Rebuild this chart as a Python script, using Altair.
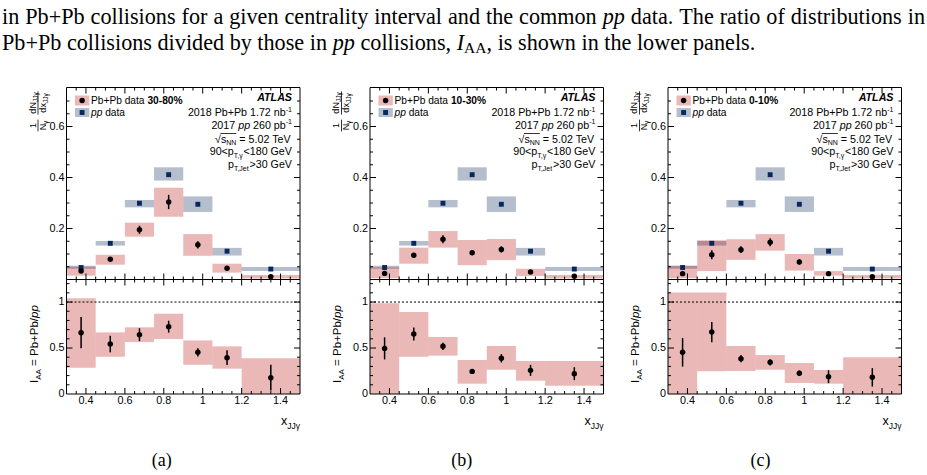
import altair as alt
import pandas as pd

W, H = 927, 475
SANS, SERIF = "Liberation Sans", "Liberation Serif"
NAVY, RED = "#06285b", "#be1414"

# ---------------- data ----------------
XMIN, XMAX = 0.3, 1.5
x_lo = [0.30, 0.45, 0.60, 0.75, 0.90, 1.05, 1.20]
x_hi = [0.45, 0.60, 0.75, 0.90, 1.05, 1.20, 1.50]
x_pt = [0.375, 0.525, 0.675, 0.825, 0.975, 1.125, 1.35]

# common pp data
pp_val = [0.047, 0.142, 0.299, 0.411, 0.295, 0.111, 0.041]
pp_sys_lo = [0.042, 0.133, 0.283, 0.388, 0.265, 0.094, 0.033]
pp_sys_hi = [0.054, 0.151, 0.312, 0.440, 0.326, 0.124, 0.049]

# Pb+Pb 30-80 %
a_val = [0.033, 0.079, 0.195, 0.304, 0.136, 0.044, 0.011]
a_stat = [0.004, 0.006, 0.016, 0.028, 0.014, 0.005, 0.003]
a_sys_lo = [0.015, 0.058, 0.168, 0.246, 0.093, 0.027, 0.004]
a_sys_hi = [0.050, 0.097, 0.223, 0.360, 0.178, 0.062, 0.018]
a_iaa = [0.667, 0.543, 0.645, 0.732, 0.453, 0.395, 0.177]
a_iaa_stat = [0.17, 0.09, 0.07, 0.065, 0.045, 0.08, 0.14]
a_iaa_lo = [0.286, 0.405, 0.565, 0.598, 0.318, 0.275, 0.0]
a_iaa_hi = [1.04, 0.67, 0.725, 0.873, 0.583, 0.518, 0.388]

# Pb+Pb 10-30 %
b_val = [0.024, 0.095, 0.158, 0.105, 0.118, 0.029, 0.013]
b_stat = [0.004, 0.007, 0.016, 0.010, 0.012, 0.004, 0.003]
b_sys_lo = [0.005, 0.062, 0.125, 0.056, 0.076, 0.014, 0.004]
b_sys_hi = [0.048, 0.125, 0.190, 0.155, 0.159, 0.042, 0.018]
b_iaa = [0.496, 0.652, 0.518, 0.246, 0.388, 0.257, 0.221]
b_iaa_stat = [0.12, 0.07, 0.04, 0.02, 0.045, 0.06, 0.07]
b_iaa_lo = [0.0, 0.406, 0.417, 0.112, 0.264, 0.145, 0.09]
b_iaa_hi = [0.986, 0.891, 0.62, 0.37, 0.522, 0.359, 0.359]

# Pb+Pb 0-10 %
c_val = [0.023, 0.097, 0.117, 0.146, 0.069, 0.023, 0.011]
c_stat = [0.004, 0.018, 0.013, 0.016, 0.010, 0.004, 0.003]
c_sys_lo = [0.005, 0.033, 0.077, 0.113, 0.035, 0.015, 0.004]
c_sys_hi = [0.054, 0.154, 0.158, 0.178, 0.100, 0.033, 0.018]
c_iaa = [0.453, 0.674, 0.384, 0.344, 0.225, 0.188, 0.181]
c_iaa_stat = [0.155, 0.11, 0.04, 0.035, 0.03, 0.07, 0.1]
c_iaa_lo = [0.0, 0.248, 0.25, 0.264, 0.12, 0.112, 0.0]
c_iaa_hi = [1.105, 1.105, 0.522, 0.424, 0.337, 0.261, 0.399]

centrality = ["30-80%", "10-30%", "0-10%"]
captions = ["(a)", "(b)", "(c)"]

x_major = [0.4, 0.6, 0.8, 1.0, 1.2, 1.4]
x_minor = [0.35, 0.45, 0.5, 0.55, 0.65, 0.7, 0.75, 0.85, 0.9, 0.95,
           1.05, 1.1, 1.15, 1.25, 1.3, 1.35, 1.45]
x_labels = ["0.4", "0.6", "0.8", "1", "1.2", "1.4"]
yu_major = [0.2, 0.4, 0.6]
yu_minor = [0.05, 0.1, 0.15, 0.25, 0.3, 0.35, 0.45, 0.5, 0.55, 0.65, 0.7]
yu_labels = ["0.2", "0.4", "0.6"]
yl_major = [0.5, 1.0]
yl_minor = [0.1, 0.2, 0.3, 0.4, 0.6, 0.7, 0.8, 0.9, 1.1, 1.2]
yl_label_vals = [0.0, 0.5, 1.0]
yl_labels = ["0", "0.5", "1"]

header1 = ["in", "Pb+Pb", "collisions", "for", "a", "given", "centrality", "interval",
           "and", "the", "common", "*pp", "data.", "The", "ratio", "of", "distributions", "in"]

PANELS = [
    dict(val=a_val, stat=a_stat, lo=a_sys_lo, hi=a_sys_hi,
         iaa=a_iaa, istat=a_iaa_stat, ilo=a_iaa_lo, ihi=a_iaa_hi),
    dict(val=b_val, stat=b_stat, lo=b_sys_lo, hi=b_sys_hi,
         iaa=b_iaa, istat=b_iaa_stat, ilo=b_iaa_lo, ihi=b_iaa_hi),
    dict(val=c_val, stat=c_stat, lo=c_sys_lo, hi=c_sys_hi,
         iaa=c_iaa, istat=c_iaa_stat, ilo=c_iaa_lo, ihi=c_iaa_hi),
]

# ---------------- layout ----------------
PX0 = [66.5, 370.0, 668.0]
PW = 233.5
YU_T, YU_B, YU_MAX = 87.5, 279.5, 0.753
YL_T, YL_B, YL_MAX = 279.5, 394.0, 1.245
CAP_X = [161.7, 461.7, 760.5]

# font metrics (per 1000 em) for composing rich text
AR = {' ': 278, '%': 889, '+': 584, ',': 278, '-': 333, '.': 278, '/': 278, '<': 584,
      '=': 584, '>': 584, '(': 333, ')': 333, 'A': 667, 'B': 667, 'C': 722, 'D': 722,
      'E': 667, 'G': 778, 'I': 278, 'J': 500, 'L': 556, 'N': 722, 'P': 667, 'S': 667,
      'T': 611, 'V': 667, 'a': 556, 'b': 556, 'c': 500, 'd': 556, 'e': 556, 'f': 278,
      'g': 556, 'h': 556, 'i': 222, 'l': 222, 'm': 833, 'n': 556, 'o': 556, 'p': 556,
      'r': 333, 's': 500, 't': 278, 'u': 556, 'v': 500, 'x': 500, 'y': 500,
      'γ': 500, '√': 549}
AR_B = dict(AR, **{'A': 722, 'L': 611, 'S': 667, 'T': 611})
TM = {' ': 250, '+': 564, ',': 250, '.': 250, '-': 333, '(': 333, ')': 333, 'A': 722,
      'I': 333, 'P': 556, 'T': 611, 'a': 444, 'b': 500, 'c': 444, 'd': 500, 'e': 444,
      'f': 333, 'g': 500, 'h': 500, 'i': 278, 'l': 278, 'm': 778, 'n': 500, 'o': 500,
      'p': 500, 'r': 333, 's': 389, 't': 278, 'u': 500, 'v': 500, 'w': 722, 'y': 500}


def tw(s, size, table, default=556):
    return sum(table.get(ch, default) for ch in s) * size / 1000.0


ann = []      # text pieces
swatch = []   # small legend rects
lines = []    # small decoration rules


def put(x, y, text, size, font=SANS, weight="normal", style="normal", angle=0, align="left"):
    ann.append(dict(x=x, y=y, text=text, size=size, font=font, weight=weight,
                    style=style, angle=angle, align=align))


def tab_of(s):
    return AR_B if s.get("weight") == "bold" else AR


def seg_width(segs):
    return sum(tw(s["t"], s["size"], tab_of(s)) for s in segs)


def compose(x_start, y_base, segs):
    # leading/trailing blanks are collapsed by SVG, so advance x by hand
    x = x_start
    for s in segs:
        t = s["t"]
        lead = len(t) - len(t.lstrip(" "))
        xs = x + tw(" " * lead, s["size"], tab_of(s))
        if t.strip():
            put(xs, y_base + s.get("dy", 0), t.strip(), s["size"],
                weight=s.get("weight", "normal"), style=s.get("style", "normal"))
        x += tw(t, s["size"], tab_of(s))
    return x


def compose_right(x_right, y_base, segs):
    return compose(x_right - seg_width(segs), y_base, segs)


def compose_up(x_base, y_start, segs):
    # rotated text reading bottom -> top
    y = y_start
    for s in segs:
        t = s["t"]
        lead = len(t) - len(t.lstrip(" "))
        ys = y - tw(" " * lead, s["size"], AR)
        if t.strip():
            put(x_base + s.get("dx", 0), ys, t.strip(), s["size"],
                style=s.get("style", "normal"), angle=270)
        y -= tw(t, s["size"], AR)
    return y


# ---------------- panels ----------------
def panel(i, upper):
    x0, x1 = PX0[i], PX0[i] + PW
    if upper:
        ytop, ybot, ymax = YU_T, YU_B, YU_MAX
    else:
        ytop, ybot, ymax = YL_T, YL_B, YL_MAX
    ppx = PW / (XMAX - XMIN)
    ppy = (ybot - ytop) / ymax
    xs = alt.Scale(domain=[XMIN, XMAX], range=[x0, x1], nice=False, zero=False)
    ys = alt.Scale(domain=[0, ymax], range=[ybot, ytop], nice=False, zero=False)

    def X(f):
        return alt.X(f, type="quantitative", scale=xs, axis=None)

    def Y(f):
        return alt.Y(f, type="quantitative", scale=ys, axis=None)

    d = PANELS[i]
    L = []
    if upper:
        ppbox = pd.DataFrame(dict(xl=x_lo, xh=x_hi, lo=pp_sys_lo, hi=pp_sys_hi))
        L.append(alt.Chart(ppbox).mark_rect(color=NAVY, opacity=0.3)
                 .encode(x=X("xl"), x2="xh", y=Y("lo"), y2="hi"))
        val, st, lo, hi = d["val"], d["stat"], d["lo"], d["hi"]
    else:
        val, st, lo, hi = d["iaa"], d["istat"], d["ilo"], d["ihi"]
    box = pd.DataFrame(dict(xl=x_lo, xh=x_hi, lo=lo, hi=hi))
    L.append(alt.Chart(box).mark_rect(color=RED, opacity=0.3)
             .encode(x=X("xl"), x2="xh", y=Y("lo"), y2="hi"))
    if not upper:
        one = pd.DataFrame(dict(xa=[XMIN], xb=[XMAX], ya=[1.0]))
        L.append(alt.Chart(one).mark_rule(color="black", strokeWidth=1, strokeDash=[2, 2])
                 .encode(x=X("xa"), x2="xb", y=Y("ya")))
    err = pd.DataFrame(dict(x=x_pt, lo=[v - s for v, s in zip(val, st)],
                            hi=[v + s for v, s in zip(val, st)]))
    L.append(alt.Chart(err).mark_rule(color="black", strokeWidth=1.5)
             .encode(x=X("x"), y=Y("lo"), y2="hi"))
    if upper:
        pts = pd.DataFrame(dict(x=x_pt, v=pp_val))
        L.append(alt.Chart(pts).mark_square(color=NAVY, size=24, opacity=1)
                 .encode(x=X("x"), y=Y("v")))
    pb = pd.DataFrame(dict(x=x_pt, v=val))
    L.append(alt.Chart(pb).mark_circle(color="black", size=30, opacity=1)
             .encode(x=X("x"), y=Y("v")))

    # frame
    fr = pd.DataFrame(dict(xa=[XMIN], xb=[XMAX], ya=[0.0], yb=[ymax]))
    L.append(alt.Chart(fr).mark_rect(fillOpacity=0, stroke="black", strokeWidth=1)
             .encode(x=X("xa"), x2="xb", y=Y("ya"), y2="yb"))

    # inward ticks on all four sides
    rows = []
    xt = [(t, 6) for t in x_major] + [(t, 3) for t in x_minor]
    if upper:
        yt = [(t, 6) for t in yu_major] + [(t, 3) for t in yu_minor]
    else:
        yt = [(t, 6) for t in yl_major] + [(t, 3) for t in yl_minor]
    for t, ln in xt:
        dl = ln / ppy
        rows.append(dict(xa=t, xb=t, ya=0.0, yb=dl))
        rows.append(dict(xa=t, xb=t, ya=ymax, yb=ymax - dl))
    for t, ln in yt:
        dl = ln / ppx
        rows.append(dict(xa=XMIN, xb=XMIN + dl, ya=t, yb=t))
        rows.append(dict(xa=XMAX, xb=XMAX - dl, ya=t, yb=t))
    L.append(alt.Chart(pd.DataFrame(rows)).mark_rule(color="black", strokeWidth=1)
             .encode(x=X("xa"), x2="xb", y=Y("ya"), y2="yb"))

    # tick labels
    if upper:
        yl = pd.DataFrame(dict(x=[XMIN] * len(yu_major), t=yu_major, lab=yu_labels))
    else:
        yl = pd.DataFrame(dict(x=[XMIN] * len(yl_label_vals), t=yl_label_vals, lab=yl_labels))
        xl = pd.DataFrame(dict(t=x_major, y=[0.0] * len(x_major), lab=x_labels))
        L.append(alt.Chart(xl).mark_text(font=SANS, fontSize=10.8, align="center",
                                         baseline="middle", dy=7, color="black")
                 .encode(x=X("t"), y=Y("y"), text="lab:N"))
    L.append(alt.Chart(yl).mark_text(font=SANS, fontSize=10.8, align="right",
                                     baseline="middle", dx=-2, color="black")
             .encode(x=X("x"), y=Y("t"), text="lab:N"))
    return alt.layer(*L)


# ---------------- annotations ----------------
for i in range(3):
    x0, x1 = PX0[i], PX0[i] + PW
    # legend
    swatch.append(dict(x=x0 + 8.5, x2=x0 + 22.8, y=95.5, y2=105.5, c=RED))
    swatch.append(dict(x=x0 + 8.5, x2=x0 + 22.8, y=108.0, y2=117.0, c=NAVY))
    compose(x0 + 24.5, 104.3, [dict(t="Pb+Pb data ", size=10.2),
                               dict(t=centrality[i], size=10.2, weight="bold")])
    compose(x0 + 24.5, 116.3, [dict(t="pp", size=10.2, style="italic"),
                               dict(t=" data", size=10.2)])
    # ATLAS block
    xr = x1 - 8
    put(xr, 100.8, "ATLAS", 10.7, weight="bold", style="italic", align="right")
    compose_right(xr, 116.1, [dict(t="2018 Pb+Pb 1.72 nb", size=10.7),
                              dict(t="-1", size=7, dy=-4.5)])
    compose_right(xr, 128.8, [dict(t="2017 ", size=10.7), dict(t="pp", size=10.7, style="italic"),
                              dict(t=" 260 pb", size=10.7), dict(t="-1", size=7, dy=-4.5)])
    segs = [dict(t="√", size=10.7), dict(t="s", size=10.7), dict(t="NN", size=7, dy=2.5),
            dict(t=" = 5.02 TeV", size=10.7)]
    xs0 = xr - seg_width(segs)
    compose(xs0, 142.8, segs)
    ov0 = xs0 + tw("√", 10.7, AR) - 0.5
    ov1 = ov0 + 0.5 + tw("s", 10.7, AR) + tw("NN", 7, AR)
    lines.append(dict(x=ov0, x2=ov1, y=142.8 - 9.3, y2=142.8 - 9.3))
    compose_right(xr, 154.8, [dict(t="90<p", size=10.7), dict(t="T,γ", size=7, dy=3),
                              dict(t="<180 GeV", size=10.7)])
    compose_right(xr, 167.5, [dict(t="p", size=10.7), dict(t="T,Jet", size=7, dy=3),
                              dict(t=">30 GeV", size=10.7)])
    # x-axis title
    compose_right(x1, 425.0, [dict(t="x", size=12.5), dict(t="JJγ", size=8.5, dy=3.5)])
    # caption
    put(CAP_X[i], 465.5, captions[i], 18, font=SERIF, align="center")

    # upper y title : (1/N_γ) (dN_JJγ / dx_JJγ), rotated
    xn, xd, xbar = x0 - 31.0, x0 - 21.0, x0 - 28.5
    f2c, f1c = 103.0, 125.5
    num2 = [dict(t="dN", size=9), dict(t="JJγ", size=6.5, dx=2)]
    den2 = [dict(t="dx", size=9), dict(t="JJγ", size=6.5, dx=2)]
    wn, wd = seg_width(num2), seg_width(den2)
    compose_up(xn, f2c + wn / 2, num2)
    compose_up(xd, f2c + wd / 2, den2)
    wb = max(wn, wd) + 2
    lines.append(dict(x=xbar, x2=xbar, y=f2c - wb / 2, y2=f2c + wb / 2))
    num1 = [dict(t="1", size=9)]
    den1 = [dict(t="N", size=9), dict(t="γ", size=6.5, dx=2)]
    wn, wd = seg_width(num1), seg_width(den1)
    compose_up(xn, f1c + wn / 2, num1)
    compose_up(xd, f1c + wd / 2, den1)
    wb = max(wn, wd) + 2
    lines.append(dict(x=xbar, x2=xbar, y=f1c - wb / 2, y2=f1c + wb / 2))
    # lower y title
    compose_up(x0 - 29.0, 383.0, [dict(t="I", size=11.5), dict(t="AA", size=8, dx=3),
                                  dict(t=" = Pb+Pb/", size=11.5),
                                  dict(t="pp", size=11.5, style="italic")])

# header text (justified first line, natural second line)
HS = 22.2
words = [(w[1:], "italic") if w.startswith("*") else (w, "normal") for w in header1]
nat = sum(tw(w, HS, TM, 500) for w, _ in words)
gap = (925.0 - 2.0 - nat) / (len(words) - 1)
xcur = 2.0
for w, st in words:
    put(xcur, 23.5, w, HS, font=SERIF, style=st)
    xcur += tw(w, HS, TM, 500) + gap
line2 = [("Pb+Pb collisions divided by those in", "normal", HS, 0, 1),
         ("pp", "italic", HS, 0, 1), ("collisions,", "normal", HS, 0, 1),
         ("I", "italic", HS, 0, 0), ("AA", "normal", HS * 0.7, 3.5, 0),
         (", is shown in the lower panels.", "normal", HS, 0, 0)]
xcur = 2.0
for t, st, sz, dy, sp in line2:
    put(xcur, 49.5 + dy, t, sz, font=SERIF, style=st)
    xcur += tw(t, sz, TM, 500) + sp * tw(" ", HS, TM, 500)

# ---------------- assemble ----------------
layers = []
for i in range(3):
    layers.append(panel(i, True))
    layers.append(panel(i, False))

sw = pd.DataFrame(swatch)
for col in [RED, NAVY]:
    layers.append(alt.Chart(sw[sw.c == col]).mark_rect(color=col, opacity=0.3).encode(
        x=alt.X("x:Q", scale=None, axis=None), x2="x2:Q",
        y=alt.Y("y:Q", scale=None, axis=None), y2="y2:Q"))
leg_pts = pd.DataFrame(dict(x=[PX0[i] + 15.6 for i in range(3)], y=[100.5] * 3))
layers.append(alt.Chart(leg_pts).mark_circle(color="black", size=30, opacity=1).encode(
    x=alt.X("x:Q", scale=None, axis=None), y=alt.Y("y:Q", scale=None, axis=None)))
leg_sq = pd.DataFrame(dict(x=[PX0[i] + 15.6 for i in range(3)], y=[112.5] * 3))
layers.append(alt.Chart(leg_sq).mark_square(color=NAVY, size=24, opacity=1).encode(
    x=alt.X("x:Q", scale=None, axis=None), y=alt.Y("y:Q", scale=None, axis=None)))
layers.append(alt.Chart(pd.DataFrame(lines)).mark_rule(color="black", strokeWidth=0.8).encode(
    x=alt.X("x:Q", scale=None, axis=None), x2="x2:Q",
    y=alt.Y("y:Q", scale=None, axis=None), y2="y2:Q"))

adf = pd.DataFrame(ann)
keys = ["font", "size", "weight", "style", "angle", "align"]
for k, g in adf.groupby(keys):
    font, size, weight, style, angle, align = k
    layers.append(alt.Chart(g[["x", "y", "text"]].reset_index(drop=True)).mark_text(
        font=font, fontSize=float(size), fontWeight=weight, fontStyle=style,
        angle=float(angle), align=align, baseline="alphabetic", color="black").encode(
        x=alt.X("x:Q", scale=None, axis=None), y=alt.Y("y:Q", scale=None, axis=None),
        text="text:N"))

chart = (alt.layer(*layers)
         .resolve_scale(x="independent", y="independent")
         .properties(width=W, height=H, autosize=alt.AutoSizeParams(type="none"),
                     padding=0, background="white")
         .configure_view(stroke=None))

chart.save("out.html", embed_options={"renderer": "svg", "actions": False})
